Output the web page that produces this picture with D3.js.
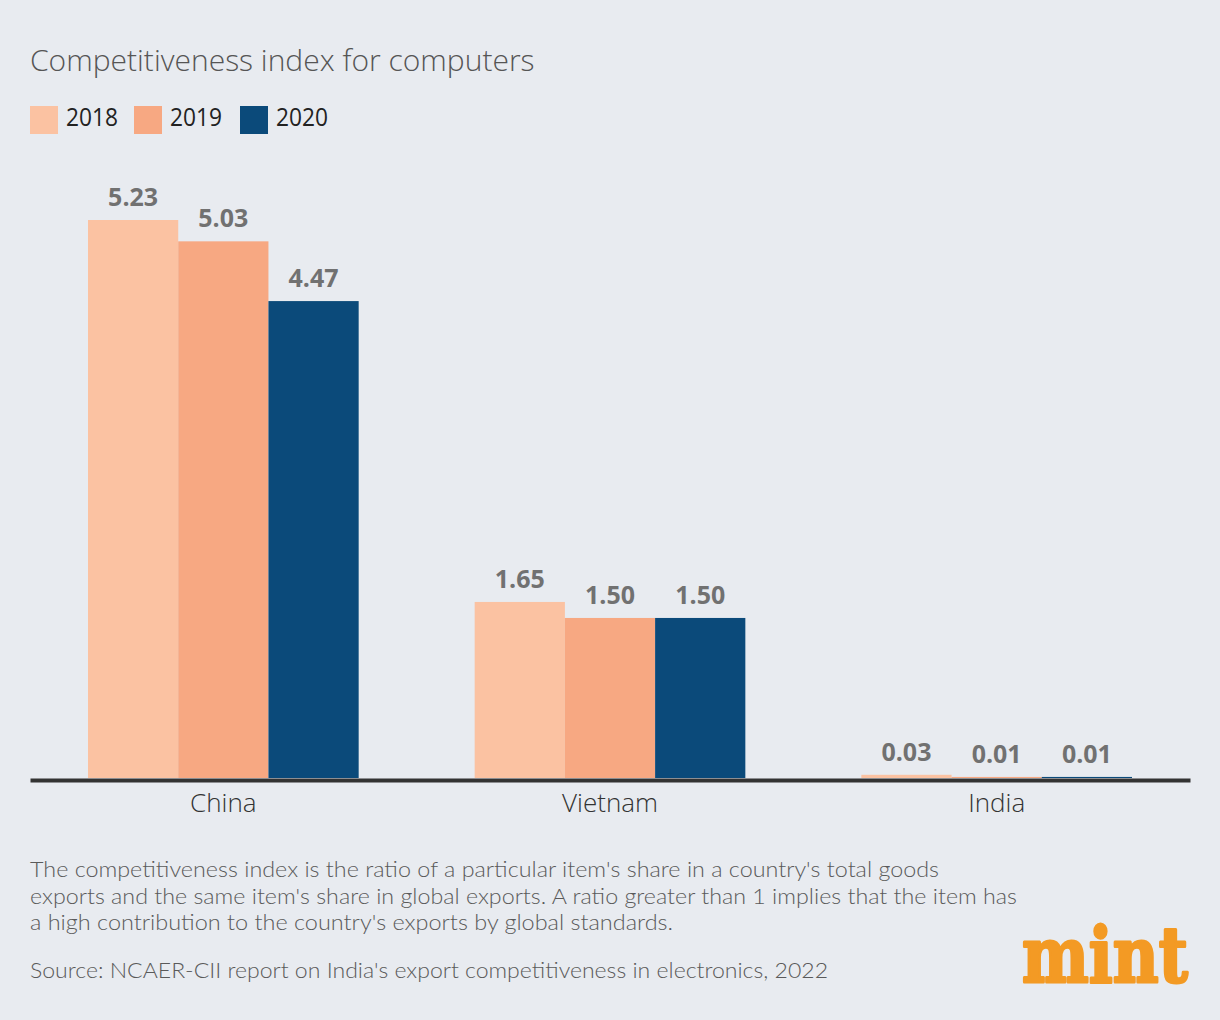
<!DOCTYPE html>
<html>
<head>
<meta charset="utf-8">
<script src="https://cdn.jsdelivr.net/npm/d3@7"></script>
<style>
  body { margin: 0; background: #e8ebf0; }
  svg { display: block; font-family: "Open Sans", "Lato", sans-serif; }
</style>
</head>
<body>
<div id="chart"></div>
<script>
const countries = ["China", "Vietnam", "India"];
const years = ["2018", "2019", "2020"];
const v2018 = [5.23, 1.65, 0.03];
const v2019 = [5.03, 1.50, 0.01];
const v2020 = [4.47, 1.50, 0.01];
const colors = ["#fbc2a2", "#f7a882", "#0b4a7a"];

const title = "Competitiveness index for computers";
const note = [
  "The competitiveness index is the ratio of a particular item's share in a country's total goods",
  "exports and the same item's share in global exports. A ratio greater than 1 implies that the item has",
  "a high contribution to the country's exports by global standards."
];
const noteWidths = [909, 987, 643];
const source = "Source: NCAER-CII report on India's export competitiveness in electronics, 2022";

const width = 1220, height = 1020;
const baseY = 778;

const data = countries.map((c, i) => ({
  country: c,
  values: [v2018[i], v2019[i], v2020[i]]
}));

const svg = d3.select("#chart").append("svg")
  .attr("width", width)
  .attr("height", height);

svg.append("rect")
  .attr("width", width)
  .attr("height", height)
  .attr("fill", "#e8ebf0");

// title
svg.append("text")
  .attr("x", 30).attr("y", 71)
  .attr("font-size", 30)
  .attr("font-weight", 300)
  .attr("fill", "#555")
  .text(title);

// legend
const legendX = [30, 134, 240];
const legend = svg.append("g");
years.forEach((y, i) => {
  legend.append("rect")
    .attr("x", legendX[i]).attr("y", 106)
    .attr("width", 28).attr("height", 28)
    .attr("fill", colors[i]);
  legend.append("text")
    .attr("x", legendX[i] + 36).attr("y", 126)
    .attr("font-size", 26)
    .attr("textLength", 52)
    .attr("lengthAdjust", "spacingAndGlyphs")
    .attr("fill", "#222")
    .text(y);
});

// scales
const x0 = d3.scaleBand()
  .domain(countries)
  .range([30, 1190])
  .paddingInner(0.3)
  .paddingOuter(0.15);

const x1 = d3.scaleBand()
  .domain(years)
  .range([0, x0.bandwidth()]);

const y = d3.scaleLinear()
  .domain([0, 5.23])
  .range([baseY, 220]);

const groups = svg.append("g")
  .selectAll("g")
  .data(data)
  .join("g")
  .attr("transform", d => `translate(${x0(d.country)},0)`);

groups.selectAll("rect")
  .data(d => d.values.map((v, i) => ({ year: years[i], v, i })))
  .join("rect")
  .attr("x", d => x1(d.year))
  .attr("y", d => y(d.v))
  .attr("width", x1.bandwidth())
  .attr("height", d => baseY - y(d.v))
  .attr("fill", d => colors[d.i]);

groups.selectAll("text.val")
  .data(d => d.values.map((v, i) => ({ year: years[i], v, i })))
  .join("text")
  .attr("class", "val")
  .attr("x", d => x1(d.year) + x1.bandwidth() / 2)
  .attr("y", d => y(d.v) - 14)
  .attr("text-anchor", "middle")
  .attr("font-size", 25)
  .attr("font-weight", 700)
  .attr("fill", "#717171")
  .text(d => d3.format(".2f")(d.v));

// x axis
const xAxis = svg.append("g")
  .attr("transform", `translate(0,${baseY + 2})`)
  .call(d3.axisBottom(x0).tickSize(0).tickPadding(14));
xAxis.select(".domain")
  .attr("stroke", "#333")
  .attr("stroke-width", 4);
xAxis.selectAll("text")
  .attr("font-size", 26)
  .attr("font-family", "'Open Sans', 'Lato', sans-serif")
  .attr("font-weight", 300)
  .attr("fill", "#333");

// note
svg.append("g")
  .selectAll("text")
  .data(note)
  .join("text")
  .attr("x", 30)
  .attr("y", (d, i) => 877 + i * 26.7)
  .attr("font-family", "Lato, 'Open Sans', sans-serif")
  .attr("font-size", 21.5)
  .attr("font-weight", 300)
  .attr("textLength", (d, i) => noteWidths[i])
  .attr("lengthAdjust", "spacingAndGlyphs")
  .attr("fill", "#5a5a5a")
  .text(d => d);

svg.append("text")
  .attr("x", 30).attr("y", 978)
  .attr("font-family", "Lato, 'Open Sans', sans-serif")
  .attr("font-size", 21.5)
  .attr("font-weight", 300)
  .attr("textLength", 798)
  .attr("lengthAdjust", "spacingAndGlyphs")
  .attr("fill", "#5a5a5a")
  .text(source);

// mint logo
svg.append("text")
  .attr("transform", "translate(1022,982) scale(0.82,1)")
  .attr("font-family", "'DejaVu Serif', serif")
  .attr("font-weight", 700)
  .attr("font-size", 77)
  .attr("fill", "#f39a24")
  .attr("stroke", "#f39a24")
  .attr("stroke-width", 3)
  .attr("stroke-linejoin", "round")
  .text("mint");
</script>
</body>
</html>
